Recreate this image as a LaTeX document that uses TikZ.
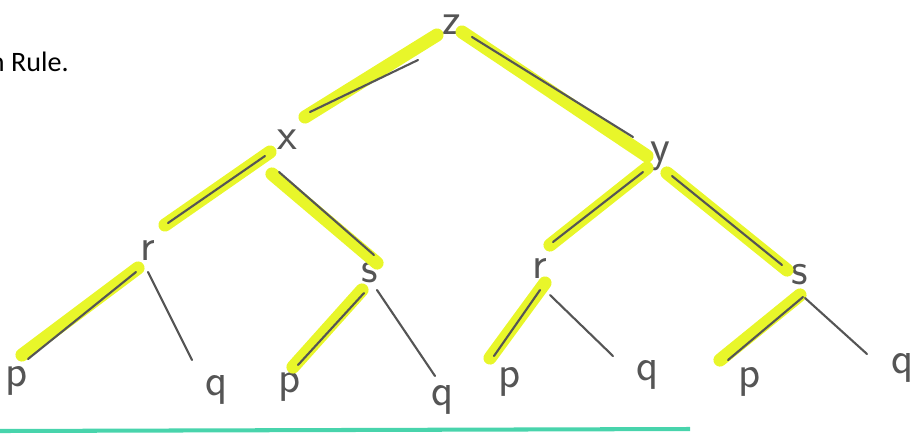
\documentclass[tikz,border=0pt]{standalone}
\usepackage{fontspec}
\newfontfamily\rulefont{Carlito}
\usetikzlibrary{calc}
\definecolor{hlyellow}{RGB}{232,246,42}
\definecolor{pengray}{RGB}{85,85,85}
\definecolor{mint}{RGB}{72,212,172}
\tikzset{
  lbl/.style={font=\sffamily\fontsize{26}{26}\selectfont, text=pengray, inner sep=0pt},
  hl/.style={line width=7.5pt, draw=hlyellow, line cap=round},
  pen/.style={line width=1.2pt, draw=pengray, line cap=round},
}
\begin{document}
\begin{tikzpicture}[x=0.02cm,y=-0.02cm]
\useasboundingbox (0,0) rectangle (917,434);
\clip (0,0) rectangle (917,434);
% nodes
\node[lbl] (z) at (452,25) {z};
\node[lbl] (x) at (287,140) {x};
\node[lbl] (y) at (660,156) {y};
\node[lbl] (r1) at (148,250) {r};
\node[lbl] (s1) at (370,273) {s};
\node[lbl] (r2) at (540,268) {r};
\node[lbl] (s2) at (800,275) {s};
\node[lbl] (p1) at (17,381) {p};
\node[lbl] (q1) at (217,390) {q};
\node[lbl] (p2) at (290,387) {p};
\node[lbl] (q2) at (443,400) {q};
\node[lbl] (p3) at (510,382) {p};
\node[lbl] (q3) at (648,375) {q};
\node[lbl] (p4) at (750,382) {p};
\node[lbl] (q4) at (903,368) {q};
\node[font=\rulefont\fontsize{16}{16}\selectfont, anchor=base east, inner sep=0pt] (rule) at (69,71) {n Rule.};
% highlighted edges
\draw[hl] ($(z)+(-15,10)$) -- ($(x)+(18,-23)$);
\draw[pen] ($(z)+(-34,35)$) -- ($(x)+(23,-28)$);
\draw[hl] ($(z)+(10,7)$) -- ($(y)+(-13,0)$);
\draw[pen] ($(z)+(20,12)$) -- ($(y)+(-27,-19)$);
\draw[hl] ($(x)+(-17,12)$) -- ($(r1)+(17,-25)$);
\draw[pen] ($(x)+(-22,16)$) -- ($(r1)+(20,-27)$);
\draw[hl] ($(x)+(-15,34)$) -- ($(s1)+(7,-10)$);
\draw[pen] ($(x)+(-8,32)$) -- ($(s1)+(4,-18)$);
\draw[hl] ($(y)+(-13,12)$) -- ($(r2)+(10,-23)$);
\draw[pen] ($(y)+(-17,16)$) -- ($(r2)+(13,-26)$);
\draw[hl] ($(y)+(7,17)$) -- ($(s2)+(-13,-5)$);
\draw[pen] ($(y)+(12,20)$) -- ($(s2)+(-18,-10)$);
\draw[hl] ($(r1)+(-10,18)$) -- ($(p1)+(5,-26)$);
\draw[pen] ($(r1)+(-12,22)$) -- ($(p1)+(11,-22)$);
\draw[hl] ($(s1)+(-8,17)$) -- ($(p2)+(3,-20)$);
\draw[pen] ($(s1)+(-6,20)$) -- ($(p2)+(8,-22)$);
\draw[hl] ($(r2)+(5,15)$) -- ($(p3)+(-20,-24)$);
\draw[pen] ($(r2)+(0,22)$) -- ($(p3)+(-16,-26)$);
\draw[hl] ($(s2)+(0,20)$) -- ($(p4)+(-30,-22)$);
\draw[pen] ($(s2)+(3,22)$) -- ($(p4)+(-22,-22)$);
% plain edges
\draw[pen] ($(r1)+(0,22)$) -- ($(q1)+(-25,-30)$);
\draw[pen] ($(s1)+(7,17)$) -- ($(q2)+(-8,-24)$);
\draw[pen] ($(r2)+(10,27)$) -- ($(q3)+(-35,-19)$);
\draw[pen] ($(s2)+(5,23)$) -- ($(q4)+(-36,-14)$);
% bottom line
\draw[mint, line width=2.3pt] (0,431) -- (690,429);
\end{tikzpicture}
\end{document}
